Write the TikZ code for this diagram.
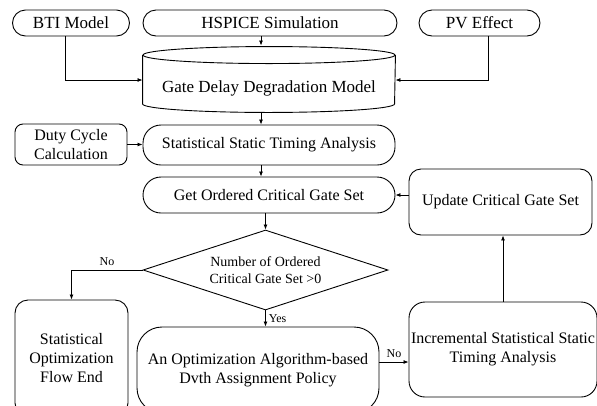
\documentclass[tikz,border=0pt]{standalone}
\usepackage{fontspec}
\setmainfont{Liberation Serif}
\usepackage{tikz}
\usetikzlibrary{arrows.meta,positioning,shapes.geometric,calc}

\begin{document}
\begin{tikzpicture}[
    x=1pt, y=-1pt,
    box/.style={draw, line width=0.9pt, inner sep=2pt, align=center,
                font=\fontsize{16}{19}\selectfont},
    pill/.style={box, rounded corners=13pt, minimum height=26pt,
                 font=\fontsize{17}{19}\selectfont},
    flowbox/.style={box, rounded corners=18pt},
    endbox/.style={box, rounded corners=13pt},
    cylbox/.style={box, draw=none, font=\fontsize{17}{19}\selectfont},
    decision/.style={box, diamond, aspect=3.06, inner sep=0pt,
                     minimum width=245pt, minimum height=80pt,
                     font=\fontsize{14}{17}\selectfont},
    arr/.style={-{Latex[length=5pt,width=4pt]}, line width=0.8pt},
    lbl/.style={font=\fontsize{12}{14}\selectfont, inner sep=1pt}
]
\useasboundingbox (0,0) rectangle (597,405);
\clip (0,0) rectangle (597,405);

% --- inputs (top row) ---
\node[pill, minimum width=117pt] (bti)    at (71,23)    {BTI Model};
\node[pill, minimum width=254pt] (hspice) at (270,23)   {HSPICE Simulation};
\node[pill, minimum width=121pt] (pv)     at (479.5,23) {PV Effect};

% --- delay model (cylinder) ---
\node[cylbox, minimum width=252pt, minimum height=48pt] (gddm) at (269,88) {Gate Delay Degradation Model};
\draw[line width=0.9pt] ([yshift=8.5pt]gddm.north west) -- ([yshift=8.5pt]gddm.south west)
    arc[start angle=180, end angle=360, x radius=126pt, y radius=8.5pt]
    -- ([yshift=8.5pt]gddm.north east);
\draw[line width=0.9pt] ([yshift=8.5pt]gddm.north) ellipse[x radius=126pt, y radius=8.5pt];

% --- timing analysis ---
\node[box, rounded corners=8pt, minimum width=112pt, minimum height=41pt] (dcc) at (71,144.5) {Duty Cycle\\Calculation};
\node[flowbox, minimum width=252pt, minimum height=40pt] (ssta)  at (269,145) {Statistical Static Timing Analysis};
\node[flowbox, minimum width=252pt, minimum height=36pt] (gocgs) at (269,195) {Get Ordered Critical Gate Set};
\node[box, rounded corners=12pt, minimum width=183pt, minimum height=66pt] (ucgs) at (500.5,202) {Update Critical Gate Set};

% --- decision and bottom row ---
\node[decision] (dec) at (265.5,270) {Number of Ordered\\Critical Gate Set >0};
\node[endbox, minimum width=113pt, minimum height=116pt] (fend) at (71.5,358) {Statistical\\Optimization\\Flow End};
\node[box, rounded corners=25pt, minimum width=242pt, minimum height=86pt] (opt) at (258,370) {An Optimization Algorithm-based\\Dvth Assignment Policy};
\node[box, rounded corners=16pt, minimum width=188pt, minimum height=95pt] (issta) at (503,349.5) {Incremental Statistical Static\\Timing Analysis};

% connectors
\draw[arr] ([xshift=-6pt]bti.south) |- ([yshift=8pt]gddm.west);
\draw[arr] ([xshift=8.5pt]pv.south) |- ([yshift=8pt]gddm.east);
\draw[arr] ([xshift=-9pt]hspice.south) -- ([xshift=-8pt,yshift=18pt]gddm.north);
\draw[arr] ([xshift=-8pt]gddm.south) -- ([xshift=-8pt]ssta.north);
\draw[arr] (dcc.east) -- (dcc.east -| ssta.west);
\draw[arr] ([xshift=-8pt]ssta.south) -- ([xshift=-8pt]gocgs.north);
\draw[arr] (gocgs.south -| dec.north) -- (dec.north);
\draw[arr] (ucgs.west |- gocgs.east) -- (gocgs.east);
\draw[arr] (dec.west) -| node[lbl, pos=0.25, above=3pt] {No} (fend.north);
\draw[arr] (dec.south) -- node[lbl, right=2pt] {Yes} (dec.south |- opt.north);
\draw[arr] ([yshift=8pt]opt.east) -- node[lbl, above=3pt] {No} ([yshift=8pt]opt.east -| issta.west);
\draw[arr] (issta.north) -- (issta.north |- ucgs.south);

\end{tikzpicture}
\end{document}
